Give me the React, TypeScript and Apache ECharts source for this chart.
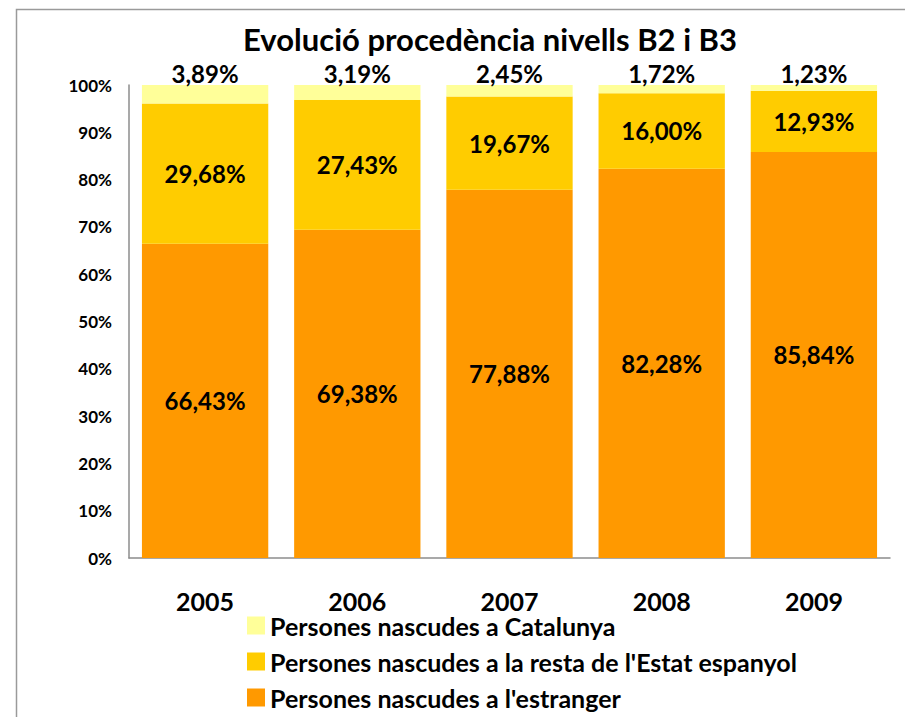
import React, { useEffect, useRef } from "react";
import * as echarts from "echarts";

const years = ["2005", "2006", "2007", "2008", "2009"];
const estranger = [66.43, 69.38, 77.88, 82.28, 85.84];
const restaEstat = [29.68, 27.43, 19.67, 16.0, 12.93];
const catalunya = [3.89, 3.19, 2.45, 1.72, 1.23];
const yTicks = [0, 10, 20, 30, 40, 50, 60, 70, 80, 90, 100];

const names = {
  cat: "Persones nascudes a Catalunya",
  resta: "Persones nascudes a la resta de l'Estat espanyol",
  estr: "Persones nascudes a l'estranger",
};

const FONT = "Lato, 'Open Sans', sans-serif";
const fmt = (v: number) => v.toFixed(2).replace(".", ",") + "%";

export default function App() {
  const ref = useRef<HTMLDivElement>(null);
  useEffect(() => {
    if (!ref.current) return;
    const chart = echarts.init(ref.current, undefined, { renderer: "svg" });
    const label = {
      show: true,
      fontFamily: FONT,
      fontWeight: "bold" as const,
      fontSize: 24,
      lineHeight: 22,
      color: "#000",
      formatter: (p: any) => fmt(p.value),
    };
    chart.setOption({
      animation: false,
      backgroundColor: "#fff",
      textStyle: { fontFamily: FONT },
      title: {
        text: "Evolució procedència nivells B2 i B3",
        left: 490,
        textAlign: "center",
        top: 25,
        padding: 0,
        textStyle: {
          fontFamily: FONT,
          fontWeight: "bold",
          fontSize: 31,
          lineHeight: 28,
          color: "#000",
        },
      },
      graphic: [
        {
          type: "polyline",
          shape: { points: [[16.5, 720], [16.5, 9.5], [910, 9.5]] },
          style: { stroke: "#9a9a9a", lineWidth: 1.5, fill: null },
        },
      ],
      legend: {
        orient: "vertical",
        left: 247,
        top: 613,
        padding: 0,
        height: 110,
        itemWidth: 18,
        itemHeight: 18,
        itemGap: 11,
        icon: "rect",
        data: [names.cat, names.resta, names.estr],
        textStyle: {
          fontFamily: FONT,
          fontWeight: "bold",
          fontSize: 25,
          lineHeight: 20,
          color: "#000",
        },
      },
      grid: { left: 129, right: 15, top: 85, bottom: 159 },
      xAxis: {
        type: "category",
        data: years,
        axisLine: { show: true, lineStyle: { color: "#8c8c8c", width: 1.5 } },
        axisTick: { show: false },
        axisLabel: {
          margin: 35,
          fontFamily: FONT,
          fontWeight: "bold",
          fontSize: 25,
          lineHeight: 16,
          color: "#000",
        },
      },
      yAxis: {
        type: "value",
        min: yTicks[0],
        max: yTicks[yTicks.length - 1],
        interval: 10,
        splitLine: { show: false },
        axisLine: { show: true, lineStyle: { color: "#8c8c8c", width: 1.5 } },
        axisTick: { show: false },
        axisLabel: {
          margin: 17,
          fontFamily: FONT,
          fontWeight: "bold",
          fontSize: 17,
          color: "#000",
          formatter: "{value}%",
        },
      },
      series: [
        {
          name: names.estr,
          type: "bar",
          stack: "t",
          data: estranger,
          barWidth: "83%",
          itemStyle: { color: "#FF9900" },
          label: { ...label, position: "inside" },
        },
        {
          name: names.resta,
          type: "bar",
          stack: "t",
          data: restaEstat,
          itemStyle: { color: "#FFCC00" },
          label: { ...label, position: "inside" },
        },
        {
          name: names.cat,
          type: "bar",
          stack: "t",
          data: catalunya,
          itemStyle: { color: "#FFFF99" },
          label: { ...label, position: "top", distance: 1 },
        },
      ],
    });
    return () => chart.dispose();
  }, []);
  return (
    <div
      ref={ref}
      style={{ position: "fixed", left: 0, top: 0, width: 905, height: 717 }}
    />
  );
}
